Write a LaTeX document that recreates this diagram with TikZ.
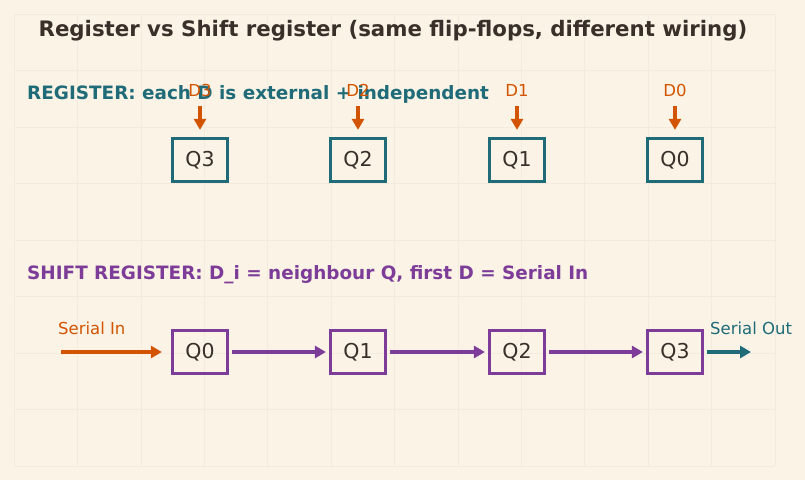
\documentclass[tikz,border=0pt]{standalone}
\usepackage{fontspec}
\setmainfont{DejaVu Sans}
\usetikzlibrary{arrows.meta, positioning}
\definecolor{fondo}{RGB}{250,243,230}
\definecolor{rejilla}{RGB}{243,235,221}
\definecolor{tinta}{RGB}{59,47,42}
\definecolor{verdeAzul}{RGB}{31,107,120}
\definecolor{naranja}{RGB}{210,84,0}
\definecolor{morado}{RGB}{125,60,152}

\tikzset{
  ffreg/.style={draw=verdeAzul, line width=3.2pt, minimum width=55pt, minimum height=43pt,
    inner sep=0pt, text=tinta, font=\fontsize{20.5}{20.5}\selectfont},
  ffshift/.style={ffreg, draw=morado},
  dlabel/.style={text=naranja, font=\fontsize{16.5}{16.5}\selectfont, inner sep=0pt},
  flecha/.style={line width=3.2pt, -{Triangle[length=11pt,width=12pt]}},
}

\begin{document}
\begin{tikzpicture}[x=1pt, y=-1pt]
  % fondo y rejilla
  \fill[fondo] (0,0) rectangle (805,480);
  \useasboundingbox (0,0) rectangle (805,480);
  \foreach \i in {0,...,12}
    \draw[rejilla, line width=0.5pt] ({14+\i*63.4},14) -- ({14+\i*63.4},466);
  \foreach \j in {0,...,8}
    \draw[rejilla, line width=0.5pt] (14,{14+\j*56.5}) -- (775,{14+\j*56.5});

  % titulo
  \node[text=tinta, font=\bfseries\fontsize{21.3}{21.3}\selectfont] (titulo) at (393,31)
    {Register vs Shift register (same flip-flops, different wiring)};

  % REGISTRO
  \node[anchor=west, text=verdeAzul, font=\bfseries\fontsize{18.4}{18.4}\selectfont, inner sep=0pt] (tituloReg) at (27,94)
    {REGISTER: each D is external + independent};
  \foreach \q/\x in {3/200, 2/358, 1/517, 0/675} {
    \node[ffreg] (rq\q) at (\x,160) {Q\q};
    \node[dlabel] (d\q) at (\x,90) {D\q};
    \coordinate (inicio\q) at (\x,106);
    \draw[flecha, naranja] (inicio\q) -- ([yshift=7pt]rq\q.north);
  }

  % REGISTRO DE DESPLAZAMIENTO
  \node[anchor=west, text=morado, font=\bfseries\fontsize{18.4}{18.4}\selectfont, inner sep=0pt] (tituloDesp) at (27,275)
    {SHIFT REGISTER: D\_i = neighbour Q, first D = Serial In};
  \foreach \q/\x in {0/200, 1/358, 2/517, 3/675}
    \node[ffshift] (sq\q) at (\x,352) {Q\q};
  \foreach \a/\b in {0/1, 1/2, 2/3}
    \draw[flecha, morado] ([xshift=3pt]sq\a.east) -- ([xshift=-3pt]sq\b.west);

  \coordinate (entrada) at (61,352);
  \coordinate (salida) at (751,352);
  \draw[flecha, naranja] (entrada) -- ([xshift=-9pt]sq0.west);
  \draw[flecha, verdeAzul] ([xshift=3pt]sq3.east) -- (salida);
  \node[dlabel, anchor=west] (serialIn) at (58,328) {Serial In};
  \node[dlabel, anchor=west, text=verdeAzul] (serialOut) at (710,328) {Serial Out};
\end{tikzpicture}
\end{document}
